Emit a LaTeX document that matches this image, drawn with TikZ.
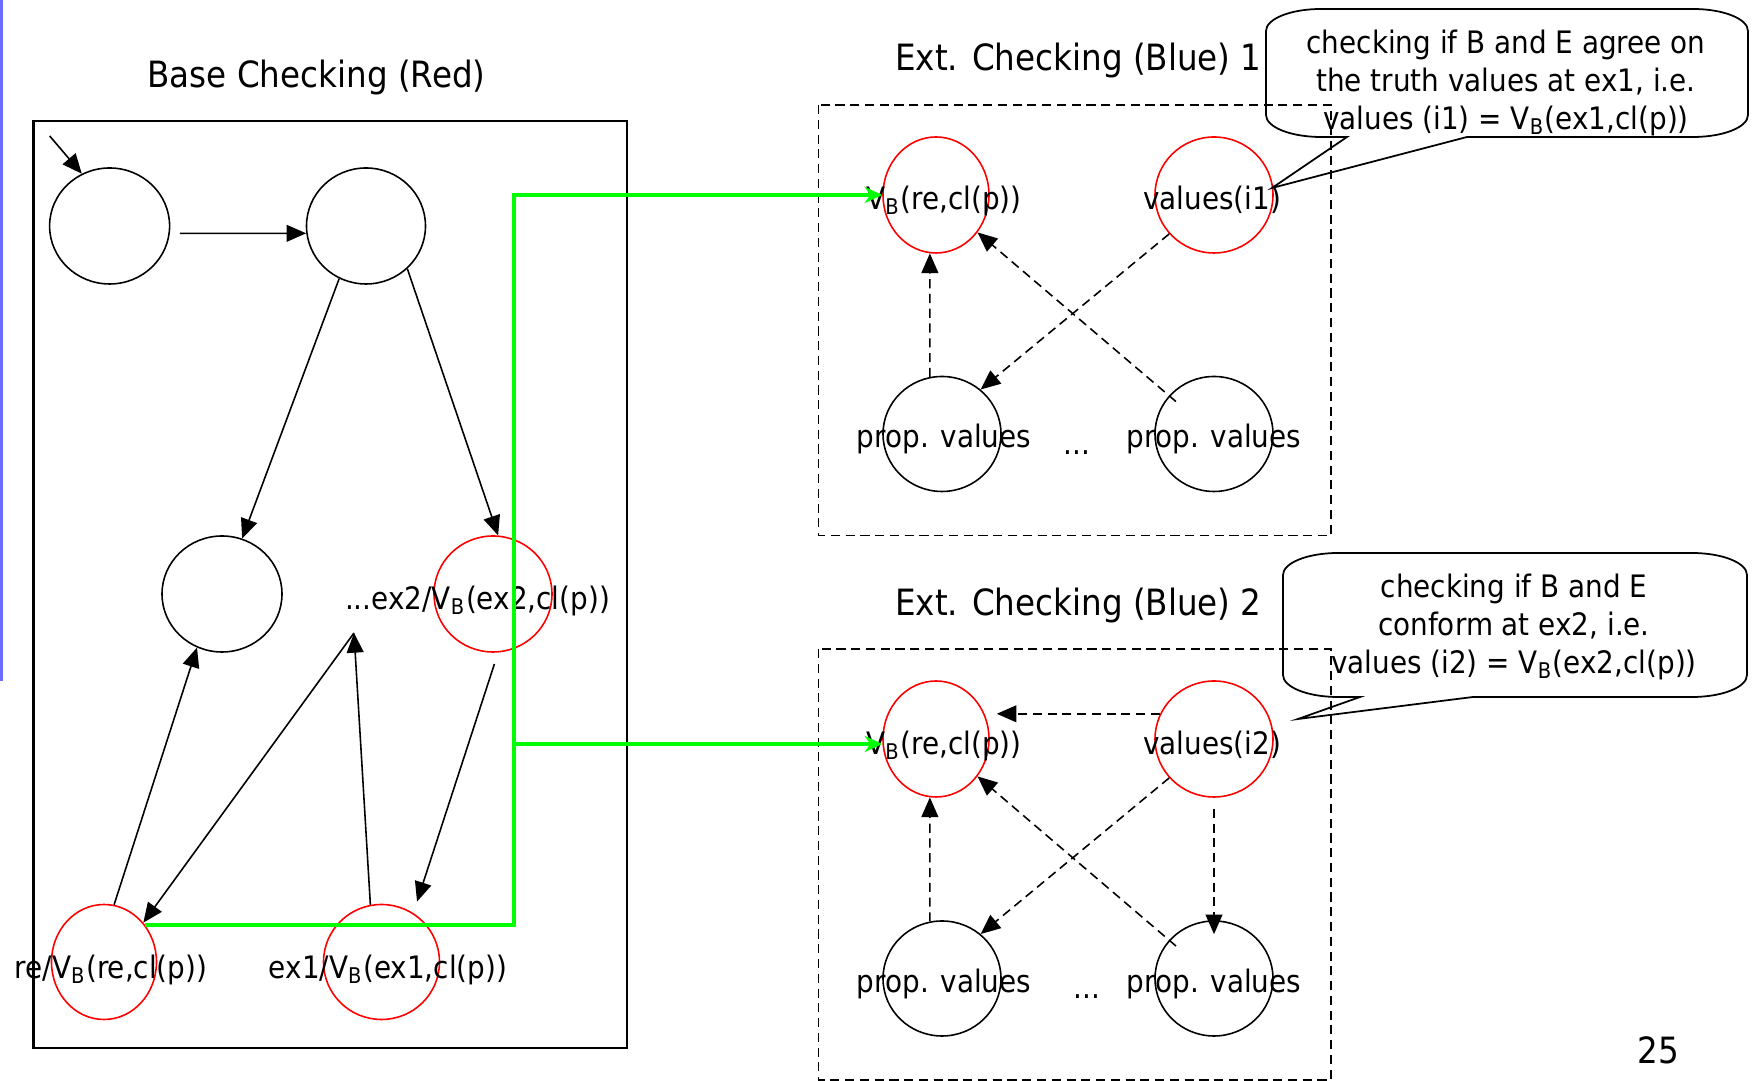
\documentclass[tikz,border=0pt]{standalone}
\usepackage{fontspec}
\setmainfont{DejaVu Sans}[FakeStretch=0.9]
\usetikzlibrary{arrows.meta,shapes.geometric,positioning}
\definecolor{slidebar}{RGB}{107,107,255}
\definecolor{linkgreen}{RGB}{0,255,0}
\newcommand{\VB}{V\textsubscript{B}}
\tikzset{
	flow/.style = {draw, line width=0.45pt, -{Triangle[length=5.6pt,width=4.8pt]}},
	dflow/.style = {flow, dash pattern=on 2.6pt off 1.6pt},
	greenline/.style = {draw=linkgreen, line width=1.2pt},
}

\begin{document}
\begin{tikzpicture}[
	stnode/.style={ellipse, draw=black, line width=0.45pt, inner sep=0pt, minimum width=1.18cm, minimum height=1.16cm},
	rednode/.style={stnode, draw=red},
	lbl/.style={anchor=base, inner sep=0pt, font=\fontsize{8.8pt}{10.7pt}\selectfont},
	headtext/.style={anchor=base, inner sep=0pt, font=\fontsize{10.3pt}{12pt}\selectfont},
	notetext/.style={align=center, inner sep=0pt, font=\fontsize{8.8pt}{10.7pt}\selectfont},
	basebox/.style={draw, line width=0.6pt},
	extbox/.style={draw, line width=0.5pt, dash pattern=on 2.6pt off 1.6pt},
	]
	\useasboundingbox (0,0) rectangle (17.52,-10.81);
	\fill[slidebar] (0,0) rectangle (0.027,-6.81);
	%Base checking
	\node[headtext] (basetitle) at (3.165,-0.88) {Base Checking (Red)};
	\draw[basebox] (0.335,-1.21) rectangle (6.27,-10.48);
	\node[stnode, minimum width=1.2cm] (A) at (1.096,-2.26) {};
	\node[stnode, minimum width=1.19cm] (B) at (3.66,-2.26) {};
	\node[stnode, minimum width=1.2cm] (C) at (2.22,-5.94) {};
	\node[rednode] (D) at (4.93,-5.94) {};
	\node[rednode, minimum width=1.05cm, minimum height=1.15cm] (re) at (1.04,-9.62) {};
	\node[rednode, minimum width=1.16cm, minimum height=1.15cm] (ex1) at (3.815,-9.62) {};
	\node[lbl] (Dlbl) at (4.775,-6.10) {...ex2/\VB(ex2,cl(p))};
	\node[lbl] (relbl) at (1.11,-9.79) {re/\VB(re,cl(p))};
	\node[lbl] (ex1lbl) at (3.88,-9.79) {ex1/\VB(ex1,cl(p))};
	\coordinate (init) at (0.497,-1.36);
	\coordinate (more) at (3.54,-6.33);
	%Ext. checking 1
	\node[headtext] (ext1title) at (10.785,-0.71) {Ext. Checking (Blue) 1};
	\draw[extbox] (8.185,-1.05) rectangle (13.31,-5.355);
	\node[rednode, minimum width=1.06cm] (vb1) at (9.36,-1.95) {};
	\node[rednode] (vals1) at (12.14,-1.95) {};
	\node[stnode, minimum height=1.15cm] (pa1) at (9.42,-4.34) {};
	\node[stnode, minimum height=1.15cm] (pb1) at (12.14,-4.34) {};
	\node[lbl] (vb1lbl) at (9.44,-2.10) {\VB(re,cl(p))};
	\node[lbl] (vals1lbl) at (12.12,-2.10) {values(i1)};
	\node[lbl] (pa1lbl) at (9.44,-4.48) {prop. values};
	\node[lbl] (pb1lbl) at (12.14,-4.48) {prop. values};
	\node[lbl] (dots1) at (10.77,-4.55) {...};
	%Ext. checking 2
	\node[headtext] (ext2title) at (10.785,-6.16) {Ext. Checking (Blue) 2};
	\draw[extbox] (8.185,-6.49) rectangle (13.31,-10.80);
	\node[rednode, minimum width=1.06cm] (vb2) at (9.36,-7.39) {};
	\node[rednode] (vals2) at (12.14,-7.39) {};
	\node[stnode, minimum height=1.15cm] (pa2) at (9.42,-9.785) {};
	\node[stnode, minimum height=1.15cm] (pb2) at (12.14,-9.785) {};
	\node[lbl] (vb2lbl) at (9.44,-7.55) {\VB(re,cl(p))};
	\node[lbl] (vals2lbl) at (12.12,-7.55) {values(i2)};
	\node[lbl] (pa2lbl) at (9.44,-9.93) {prop. values};
	\node[lbl] (pb2lbl) at (12.14,-9.93) {prop. values};
	\node[lbl] (dots2) at (10.87,-9.99) {...};
	%Lines
	\draw[flow] (init) -- (A.118);
	\draw[flow, shorten <=0.1cm] (A.-7) -- (B.187);
	\draw[flow] (B.243) -- (C.70);
	\draw[flow] (B.-46) -- (D.85);
	\draw[flow] (re.80) -- (C.245);
	\draw[flow] (ex1.101) -- (more);
	\draw[flow] (more) -- (re.45);
	\draw[flow, shorten <=0.12cm, shorten >=0.12cm] (D.-85) -- (ex1.57);
	\draw[dflow] (pa1.102) -- (vb1.264);
	\draw[dflow] (vals1.221) -- (pa1.49);
	\draw[dflow, shorten <=0.5cm] (pb1.center) -- (vb1.318);
	\draw[dflow] (pa2.102) -- (vb2.264);
	\draw[dflow] (vals2.221) -- (pa2.49);
	\draw[dflow, shorten <=0.5cm] (pb2.center) -- (vb2.318);
	\draw[dflow, shorten >=0.07cm] (vals2.155) -- (vals2.155 -| vb2.east);
	\draw[dflow, shorten <=0.11cm, shorten >=-0.14cm] (vals2.south) -- (pb2.north);
	%green links
	\coordinate (gtop) at (5.14,-1.95);
	\coordinate (gmid) at (5.14,-7.44);
	\draw[greenline, -{Stealth[length=5pt,width=4.6pt]}] (re.42) -| (gtop) -- (vb1.west);
	\draw[greenline, -{Stealth[length=5pt,width=4.6pt]}] (gmid) -- (gmid -| vb2.west);
	%callouts
	\draw[line width=0.5pt] (13.47,-1.37) -- (12.72,-1.88) -- (14.67,-1.37) -- (16.93,-1.37)
		arc[start angle=270, end angle=360, x radius=0.55, y radius=0.22] -- (17.48,-0.31)
		arc[start angle=0, end angle=90, x radius=0.55, y radius=0.22] -- (13.21,-0.09)
		arc[start angle=90, end angle=180, x radius=0.55, y radius=0.22] -- (12.66,-1.15)
		arc[start angle=180, end angle=270, x radius=0.55, y radius=0.22] -- cycle;
	\node[notetext] (note1) at (15.06,-0.83) {checking if B and E agree on\\the truth values at ex1, i.e.\\values (i1) = \VB(ex1,cl(p))};
	\draw[line width=0.5pt] (13.60,-6.97) -- (12.98,-7.19) -- (14.73,-6.97) -- (16.92,-6.97)
		arc[start angle=270, end angle=360, x radius=0.55, y radius=0.22] -- (17.47,-5.75)
		arc[start angle=0, end angle=90, x radius=0.55, y radius=0.22] -- (13.38,-5.53)
		arc[start angle=90, end angle=180, x radius=0.55, y radius=0.22] -- (12.83,-6.75)
		arc[start angle=180, end angle=270, x radius=0.55, y radius=0.22] -- cycle;
	\node[notetext] (note2) at (15.14,-6.27) {checking if B and E\\conform at ex2, i.e.\\values (i2) = \VB(ex2,cl(p))};
	\node[headtext] (pagenum) at (16.585,-10.64) {25};
\end{tikzpicture}
\end{document}
